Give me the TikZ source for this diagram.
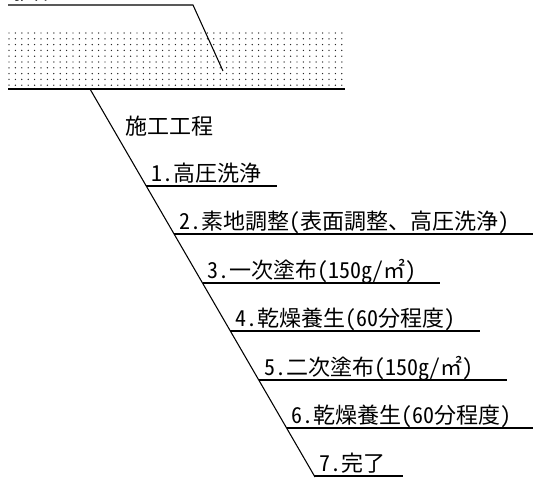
\documentclass[tikz,border=0pt]{standalone}
\usepackage{fontspec}
\newfontfamily\jpfont[RawFeature=+hwid]{Noto Sans CJK JP}
\tikzset{
  steplabel/.style={anchor=base west, inner sep=0pt, font=\jpfont\fontsize{16.5pt}{18pt}\selectfont},
  leader/.style={black, line width=0.8pt}
}
\begin{document}
\begin{tikzpicture}[x=0.75pt, y=-0.75pt]
    \useasboundingbox (0,0) rectangle (533,478);
    \foreach \i in {0,...,52} {
      \foreach \j in {0,...,9} {
        \fill[black!85] (9+\i*6.4, 33+\j*5.8) circle (0.55pt);
      }
    }
    \draw[leader] (8,89) -- (345,89);
    \node[steplabel] (base) at (10,0) {躯体コンクリート};
    \coordinate (basel) at (8,5);
    \coordinate (baser) at (193,5);
    \coordinate (basetip) at (223,71);
    \draw[leader] (basel) -- (baser) -- (basetip);
    \coordinate (top) at (90,89);
    \coordinate (bot) at (315,477);
    \draw[leader] (top) -- (bot);
    \node[steplabel] (title) at (125,135) {施工工程};
    \foreach \i/\y/\xe/\txt in {
        1/186/277/{1.高圧洗浄},
        2/234/533/{2.素地調整(表面調整、高圧洗浄)},
        3/283/440/{3.一次塗布(150g/㎡)},
        4/331/480/{4.乾燥養生(60分程度)},
        5/380/507/{5.二次塗布(150g/㎡)},
        6/428/533/{6.乾燥養生(60分程度)},
        7/476/403/{7.完了}} {
      \pgfmathsetmacro\xl{90+(\y-89)*0.58}
      \coordinate (s\i) at (\xl,\y);
      \coordinate (e\i) at (\xe,\y);
      \node[steplabel] (t\i) at (\xl+5,\y-4.5) {\txt};
      \draw[leader] (s\i) -- (e\i);
    }
\end{tikzpicture}
\end{document}
